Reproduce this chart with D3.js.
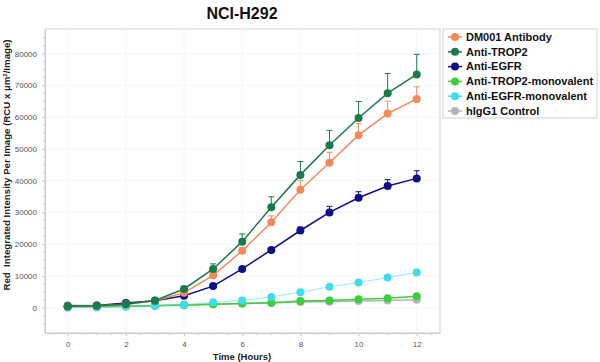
<!DOCTYPE html>
<html><head><meta charset="utf-8">
<script src="https://cdn.jsdelivr.net/npm/d3@7"></script>
<style>body{margin:0;background:#fff}svg{display:block;font-family:Arial,"Liberation Sans",sans-serif}</style>
</head><body><svg id="c" width="600" height="362"></svg>
<script>
const hours = [0,1,2,3,4,5,6,7,8,9,10,11,12];
const seriesNames = ["DM001 Antibody","Anti-TROP2","Anti-EGFR","Anti-TROP2-monovalent","Anti-EGFR-monovalent","hIgG1 Control"];
const seriesColors = ["#f5895a","#1b7a4c","#0d0d8c","#3ccf3c","#3fdcec","#b4b4b4"];
const dm001 = [400,600,1100,2200,4700,10200,17900,26900,37100,45600,54300,61100,65700];
const dm001Err = [100,100,150,200,400,800,900,2000,3000,3300,3700,3900,3800];
const trop2 = [500,600,1100,2300,5900,12200,20800,31600,41800,51100,59700,67500,73400];
const trop2Err = [100,100,200,300,500,1600,2400,3300,4200,4700,5200,6200,6300];
const egfr = [500,700,1500,2200,3800,6800,12200,18200,24300,30000,34600,38300,40700];
const egfrErr = [100,100,150,200,300,400,600,700,1100,1900,1900,2000,2400];
const trop2Mono = [200,300,400,600,800,1100,1300,1600,2100,2300,2700,3000,3600];
const trop2MonoErr = [0,0,0,0,0,0,0,0,0,0,0,0,300];
const egfrMono = [0,100,400,700,900,1700,2300,3400,4900,6600,7900,9500,11100];
const egfrMonoErr = [0,0,0,0,0,0,0,0,0,0,0,0,900];
const igg1 = [800,700,600,700,900,1100,1300,1500,1800,1900,2100,2300,2500];
const igg1Err = [0,0,0,0,0,0,0,0,0,0,0,0,0];
const xTicks = [0,2,4,6,8,10,12];
const yTicks = [0,10000,20000,30000,40000,50000,60000,70000,80000];

const allVals = [dm001,trop2,egfr,trop2Mono,egfrMono,igg1];
const allErr = [dm001Err,trop2Err,egfrErr,trop2MonoErr,egfrMonoErr,igg1Err];

const svg = d3.select("#c");
const L=45, R=440, T=29, B=333;
const x = d3.scaleLinear().domain([-0.78,12.8]).range([L,R]);
const y = d3.scaleLinear().domain([-7950,87700]).range([B,T]);

// frame
svg.append("rect").attr("x",L).attr("y",T).attr("width",R-L).attr("height",B-T)
  .attr("fill","none").attr("stroke","#d0d0d0").attr("stroke-width",1);

// faint gridlines
svg.append("g").selectAll("line").data(yTicks).join("line")
  .attr("x1",L).attr("x2",R).attr("y1",d=>y(d)).attr("y2",d=>y(d))
  .attr("stroke","#f6f6f6");
svg.append("g").selectAll("line").data(xTicks).join("line")
  .attr("y1",T).attr("y2",B).attr("x1",d=>x(d)).attr("x2",d=>x(d))
  .attr("stroke","#f6f6f6");

// axes
const yAxis = svg.append("g").attr("transform",`translate(${L},0)`)
  .call(d3.axisLeft(y).tickValues(yTicks).tickFormat(d3.format("d")).tickSize(3).tickSizeOuter(0));
yAxis.select(".domain").attr("stroke","#c8c8c8");
yAxis.selectAll(".tick line").attr("stroke","#c8c8c8");
yAxis.selectAll("text").attr("fill","#555").attr("font-size","8px").attr("dx","-2");
const yMinor = d3.range(-5000,87000,2500).filter(v=>v%10000!==0);
svg.append("g").selectAll("line").data(yMinor).join("line")
  .attr("x1",L-2).attr("x2",L).attr("y1",d=>y(d)).attr("y2",d=>y(d)).attr("stroke","#d0d0d0");

const xAxis = svg.append("g").attr("transform",`translate(0,${B})`)
  .call(d3.axisBottom(x).tickValues(xTicks).tickFormat(d3.format("d")).tickSize(3).tickSizeOuter(0));
xAxis.select(".domain").attr("stroke","#c8c8c8");
xAxis.selectAll(".tick line").attr("stroke","#c8c8c8");
xAxis.selectAll("text").attr("fill","#555").attr("font-size","8px").attr("dy","0.95em");
const xMinor = d3.range(-0.5,12.8,0.5).filter(v=>v%2!==0);
svg.append("g").selectAll("line").data(xMinor).join("line")
  .attr("y1",B).attr("y2",B+2).attr("x1",d=>x(d)).attr("x2",d=>x(d)).attr("stroke","#d0d0d0");

// title & labels
svg.append("text").attr("x",242).attr("y",19).attr("text-anchor","middle")
  .attr("font-size","16px").attr("font-weight","bold").attr("fill","#111").text("NCI-H292");
svg.append("text").attr("x",242).attr("y",359.5).attr("text-anchor","middle")
  .attr("font-size","9.5px").attr("font-weight","bold").attr("fill","#222").text("Time (Hours)");
const yl = svg.append("text").attr("transform",`translate(10,165) rotate(-90)`)
  .attr("text-anchor","middle").attr("font-size","9.7px").attr("font-weight","bold").attr("fill","#222");
yl.append("tspan").text("Red\u00a0 Integrated Intensity Per Image (RCU x µm");
yl.append("tspan").attr("font-size","6px").attr("dy","-3").text("2");
yl.append("tspan").attr("dy","3").text("/Image)");

// series (draw in reverse so first series on top)
const order = [5,3,4,2,0,1];
order.forEach(i=>{
  const vals = allVals[i], errs = allErr[i], col = seriesColors[i];
  const g = svg.append("g");
  const pts = hours.map((h,k)=>({h,v:vals[k],e:errs[k]}));
  const eb = pts.filter(p=>p.e>0);
  g.selectAll("line.eb").data(eb).join("line").attr("class","eb")
    .attr("x1",p=>x(p.h)).attr("x2",p=>x(p.h)).attr("y1",p=>y(p.v)).attr("y2",p=>y(p.v+p.e))
    .attr("stroke",col).attr("stroke-width",1);
  g.selectAll("line.cap").data(eb).join("line").attr("class","cap")
    .attr("x1",p=>x(p.h)-3).attr("x2",p=>x(p.h)+3).attr("y1",p=>y(p.v+p.e)).attr("y2",p=>y(p.v+p.e))
    .attr("stroke",col).attr("stroke-width",1);
  const lw = (i===4)?0.8:1.5;
  g.append("path").datum(pts).attr("fill","none").attr("stroke",col).attr("stroke-width",lw)
    .attr("opacity",(i===4)?0.7:1)
    .attr("d",d3.line().x(p=>x(p.h)).y(p=>y(p.v)));
  g.selectAll("circle").data(pts).join("circle")
    .attr("cx",p=>x(p.h)).attr("cy",p=>y(p.v)).attr("r",4).attr("fill",col);
});

// legend
svg.append("rect").attr("x",443).attr("y",29).attr("width",154).attr("height",89)
  .attr("fill","#fff").attr("stroke","#d0d0d0");
const lg = svg.append("g").selectAll("g").data(seriesNames).join("g")
  .attr("transform",(d,i)=>`translate(455,${37+i*14.8})`);
lg.append("line").attr("x1",-7).attr("x2",7).attr("stroke",(d,i)=>seriesColors[i]).attr("stroke-width",1.5);
lg.append("circle").attr("r",4).attr("fill",(d,i)=>seriesColors[i]);
lg.append("text").attr("x",11).attr("dy","0.35em").attr("font-size","11px").attr("font-weight","bold")
  .attr("fill","#111").text(d=>d);
</script></body></html>
